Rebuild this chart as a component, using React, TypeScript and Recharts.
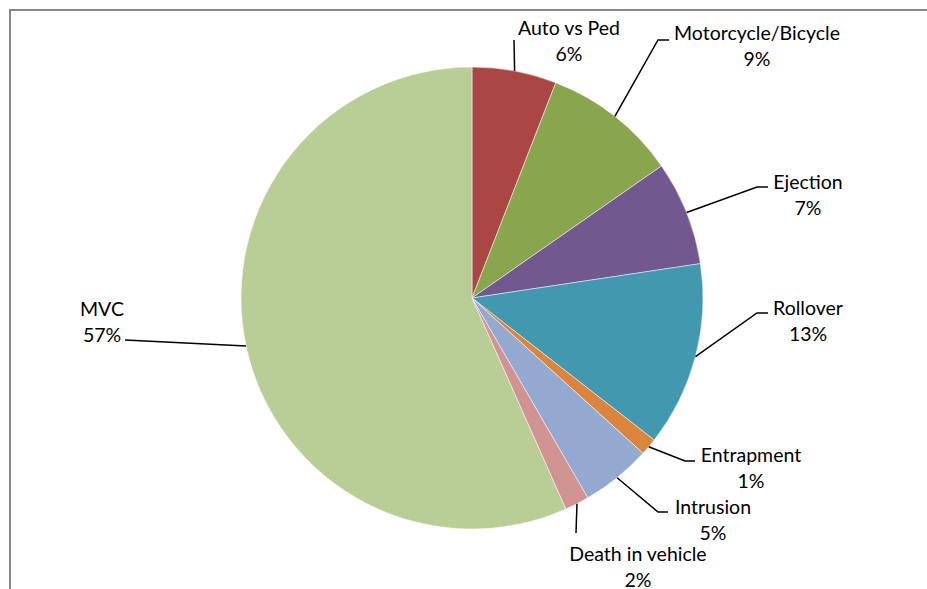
import React from "react";
import { PieChart, Pie, Cell } from "recharts";

const categories = [
  "Auto vs Ped",
  "Motorcycle/Bicycle",
  "Ejection",
  "Rollover",
  "Entrapment",
  "Intrusion",
  "Death in vehicle",
  "MVC",
];

const shares = [5.9, 9.4, 7.3, 12.9, 1.2, 4.9, 1.7, 56.6];

const COLORS = [
  "#AA4643",
  "#89A54E",
  "#71588F",
  "#4198AF",
  "#DB843D",
  "#93A9CF",
  "#D19392",
  "#B9CD96",
];

// label placement relative to the pie centre: text centre, leader elbow, leader end
const LABEL_LAYOUT = [
  { tx: 97, ty: -271, ex: 42, ey: -258, fx: 42 },
  { tx: 285, ty: -266, ex: 186, ey: -258, fx: 197 },
  { tx: 336, ty: -117, ex: 285, ey: -111, fx: 296 },
  { tx: 336, ty: 9, ex: 285, ey: 15, fx: 296 },
  { tx: 279, ty: 156, ex: 213, ey: 163, fx: 223 },
  { tx: 241, ty: 208, ex: 186, ey: 214, fx: 196 },
  { tx: 166, ty: 255, ex: 104, ey: 235, fx: 104 },
  { tx: -370, ty: 10, ex: -347, ey: 42, fx: -347 },
];

const data = categories.map((name, i) => ({ name, value: shares[i] }));

const RAD = Math.PI / 180;
const FONT = "Lato, 'Open Sans', sans-serif";

function renderLabel(props: any) {
  const { cx, cy, midAngle, outerRadius, index, percent, name } = props;
  const l = LABEL_LAYOUT[index];
  const sx = cx + outerRadius * Math.cos(-midAngle * RAD);
  const sy = cy + outerRadius * Math.sin(-midAngle * RAD);
  const pct = `${Math.round(percent * 100)}%`;
  return (
    <g key={`lbl-${index}`}>
      <polyline
        points={`${sx},${sy} ${cx + l.ex},${cy + l.ey} ${cx + l.fx},${cy + l.ey}`}
        fill="none"
        stroke="#000"
        strokeWidth={1.5}
      />
      <text
        x={cx + l.tx}
        y={cy + l.ty}
        textAnchor="middle"
        dominantBaseline="central"
        fill="#000"
        fontSize={19.5}
        fontFamily={FONT}
      >
        {name}
      </text>
      <text
        x={cx + l.tx}
        y={cy + l.ty + 26}
        textAnchor="middle"
        dominantBaseline="central"
        fill="#000"
        fontSize={19.5}
        fontFamily={FONT}
      >
        {pct}
      </text>
    </g>
  );
}

export default function App() {
  return (
    <div
      style={{
        position: "fixed",
        left: 0,
        top: 0,
        width: 960,
        height: 620,
        overflow: "hidden",
        background: "#fff",
      }}
    >
      <style>{`html, body { margin: 0; overflow: hidden; }`}</style>
      <div
        style={{
          position: "absolute",
          left: 9,
          top: 9,
          right: -40,
          bottom: -40,
          borderLeft: "2px solid #878787",
          borderTop: "2px solid #878787",
        }}
      />
      <div style={{ position: "absolute", left: 0, top: 0 }}>
        <PieChart width={927} height={589} margin={{ top: 0, right: 0, bottom: 0, left: 0 }}>
          <Pie
            data={data}
            dataKey="value"
            nameKey="name"
            cx={472}
            cy={298}
            outerRadius={231}
            startAngle={90}
            endAngle={-270}
            stroke="#fff"
            strokeWidth={0.5}
            label={renderLabel}
            labelLine={false}
            isAnimationActive={false}
          >
            {data.map((d, i) => (
              <Cell key={d.name} fill={COLORS[i]} />
            ))}
          </Pie>
        </PieChart>
      </div>
    </div>
  );
}
